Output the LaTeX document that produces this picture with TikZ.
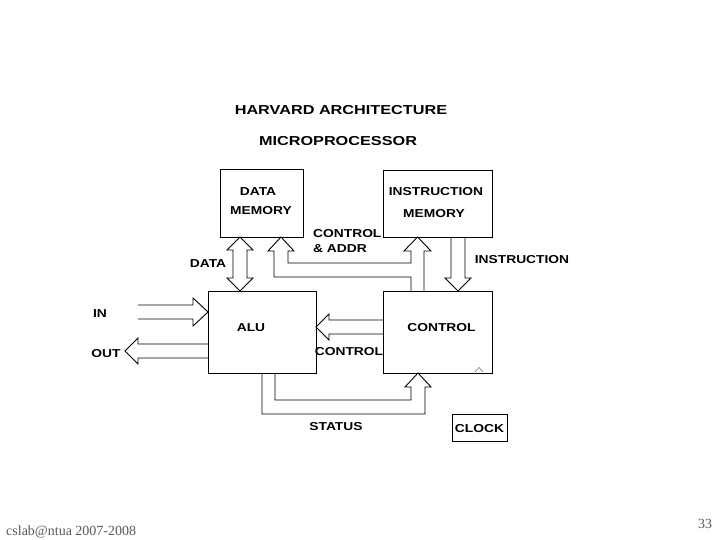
\documentclass[tikz,border=0pt]{standalone}
\usepackage{fontspec}
\newfontfamily\lblfont{Liberation Sans}[FakeStretch=1.2]
\newfontfamily\ttlfont{Liberation Sans}[FakeStretch=1.25]
\newfontfamily\footfont{Liberation Serif}
\begin{document}
\begin{tikzpicture}[x=1pt,y=-1pt,
  line/.style={draw=black,line width=0.9pt,line join=miter},
  box/.style={draw=black,line width=0.9pt,inner sep=0pt},
  lbl/.style={inner sep=0pt,font=\lblfont\bfseries\fontsize{11.5}{12}\selectfont},
  ttl/.style={inner sep=0pt,font=\ttlfont\bfseries\fontsize{13}{14}\selectfont},
  foot/.style={inner sep=0pt,text=black!65,font=\footfont\fontsize{14}{15}\selectfont}]
\useasboundingbox (0,0) rectangle (720,540);
\fill[white] (0,0) rectangle (720,540);

% titles
\node[ttl] (t1) at (341,110.5) {HARVARD ARCHITECTURE};
\node[ttl] (t2) at (338,141) {MICROPROCESSOR};

% boxes
\node[box,minimum width=83pt,minimum height=68pt] (dmem) at (261.5,203) {};
\node[box,minimum width=109pt,minimum height=67pt] (imem) at (437.5,203.5) {};
\node[box,minimum width=108pt,minimum height=82pt] (alu) at (262,332) {};
\node[box,minimum width=109pt,minimum height=82pt] (ctrl) at (437.5,332) {};
\node[box,minimum width=55pt,minimum height=27pt] (clk) at (479.5,427.5) {};

% box labels
\node[lbl] (dmem1) at (258,192) {DATA};
\node[lbl] (dmem2) at (261,211) {MEMORY};
\node[lbl] (imem1) at (436,192) {INSTRUCTION};
\node[lbl] (imem2) at (434,214) {MEMORY};
\node[lbl] (alul) at (251,328) {ALU};
\node[lbl] (ctrll) at (441.5,328) {CONTROL};
\node[lbl] (clkl) at (479.5,428.5) {CLOCK};

% connector labels
\node[lbl,anchor=west] (ca1) at (313,234) {CONTROL};
\node[lbl,anchor=west] (ca2) at (313,249) {\&~ADDR};
\node[lbl] (datal) at (208,264) {DATA};
\node[lbl] (instl) at (522,260) {INSTRUCTION};
\node[lbl] (inl) at (100,314) {IN};
\node[lbl] (outl) at (106,354) {OUT};
\node[lbl] (ctl2) at (349,352) {CONTROL};
\node[lbl] (statl) at (336,427) {STATUS};

% DATA double hollow arrow (data memory <-> ALU)
\draw[line] (240,237) -- (253,250) -- (247,250) -- (247,278) -- (253,278) -- (240,291)
  -- (227,278) -- (233,278) -- (233,250) -- (227,250) -- cycle;

% CONTROL & ADDR hollow arrow (control -> data memory and instruction memory)
\draw[line] (411,291) -- (411,277) -- (274,277) -- (274,251) -- (268,251) -- (281,237)
  -- (294,251) -- (288,251) -- (288,263) -- (411,263) -- (411,251) -- (404,251)
  -- (417.5,237) -- (431,251) -- (424,251) -- (424,291);

% INSTRUCTION hollow arrow (instruction memory -> control)
\draw[line] (451,237) -- (451,278) -- (445,278) -- (458,291) -- (471,278) -- (465,278) -- (465,237);

% IN hollow arrow
\draw[line] (138,305) -- (193,305) -- (193,298) -- (208,312) -- (193,326) -- (193,319) -- (138,319);

% OUT hollow arrow
\draw[line] (208,344) -- (138,344) -- (138,338) -- (125,351) -- (138,364) -- (138,358) -- (208,358);

% CONTROL hollow arrow (control -> ALU)
\draw[line] (383,320) -- (329,320) -- (329,314) -- (316,327) -- (329,340) -- (329,334) -- (383,334);

% STATUS hollow arrow (ALU -> control)
\draw[line] (262,373) -- (262,414) -- (425,414) -- (425,387) -- (431,387) -- (418,373)
  -- (405,387) -- (411,387) -- (411,400) -- (275,400) -- (275,373);

% clock input tip
\draw[line width=0.5pt,draw=black!60] (475,372) -- (479,367.5) -- (483,372);

% footer
\node[foot,anchor=base west] (f1) at (6,535) {cslab@ntua 2007-2008};
\node[foot] (f2) at (705,524) {33};
\end{tikzpicture}
\end{document}
